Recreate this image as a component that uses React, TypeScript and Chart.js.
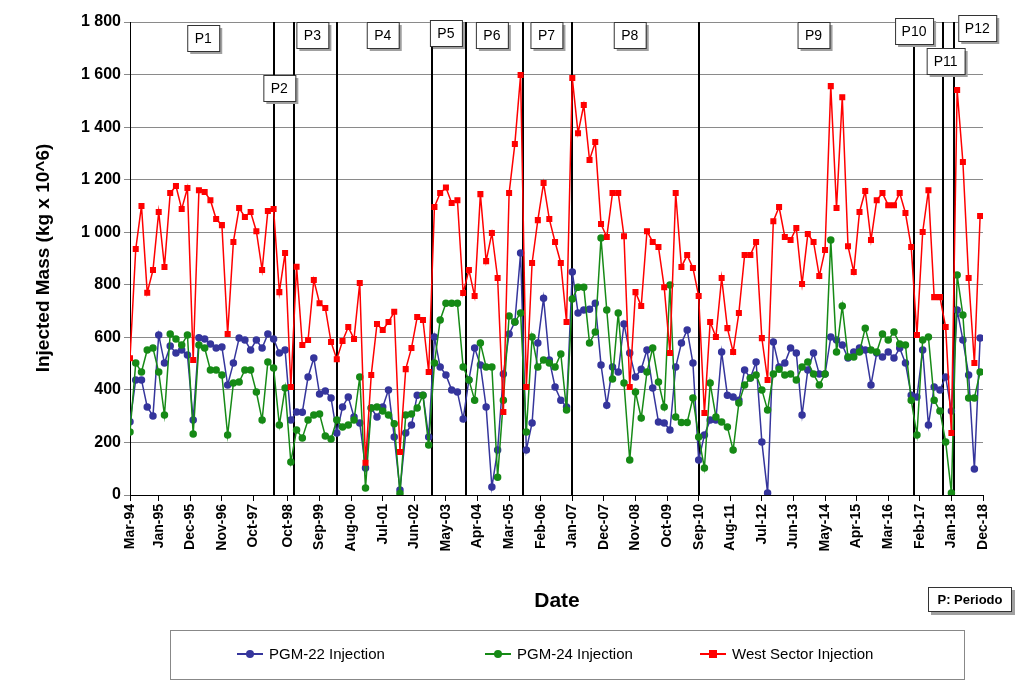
import React, { useEffect, useRef } from "react";
import { Chart, registerables } from "chart.js";
Chart.register(...registerables);

// Samples every 2 months starting Mar-94 (month index 0)
const pgm22: number[] = [
  279,438,438,335,301,609,502,567,540,552,533,285,598,594,575,559,563,419,502,597,590,552,590,559,613,594,540,552,285,316,315,449,521,384,396,369,236,335,373,297,274,103,331,297,335,400,221,19,236,266,380,
  380,221,601,487,457,400,392,289,438,559,495,335,30,171,460,613,658,921,171,274,578,749,514,411,361,335,849,693,704,707,730,495,342,487,468,651,540,449,479,552,407,278,274,247,487,578,628,502,133,228,285,
  285,544,380,373,361,476,445,506,202,8,582,487,502,559,540,304,476,540,460,460,601,590,571,521,544,559,552,419,540,525,544,521,559,502,380,373,552,266,411,400,449,320,704,590,457,99,597,
];
const pgm24: number[] = [
  240,502,468,552,559,468,304,613,594,571,609,232,571,559,476,476,457,228,426,430,476,476,392,285,506,483,266,407,126,247,217,285,304,308,225,213,285,259,266,285,449,27,331,335,320,304,271,6,304,308,331,
  380,190,502,666,730,730,730,487,438,361,578,487,487,68,361,681,658,693,240,601,487,514,502,487,537,323,746,791,791,578,620,978,704,441,693,426,133,392,293,468,559,430,335,799,297,276,276,369,221,103,426,
  297,278,259,171,350,419,445,457,400,323,460,479,457,460,438,487,506,460,419,460,970,544,719,525,525,544,635,552,544,613,590,620,575,571,361,228,590,601,361,320,202,8,837,685,369,369,468,
];
const westSector: number[] = [
  520,936,1100,770,856,1077,868,1149,1176,1088,1168,514,1160,1153,1122,1050,1027,613,963,1092,1058,1077,1004,856,1081,1088,772,921,411,869,571,590,818,730,712,582,517,586,639,594,807,123,457,651,628,658,697,164,479,559,677,
  666,468,1096,1149,1170,1111,1122,769,856,757,1145,890,997,826,316,1149,1336,1598,411,883,1046,1187,1050,963,883,658,1587,1377,1484,1275,1343,1031,982,1149,1149,985,411,772,719,1004,963,944,791,540,1149,868,913,864,757,312,658,
  601,826,635,544,693,913,913,963,597,438,1042,1096,982,970,1016,803,993,963,833,932,1556,1092,1514,947,849,1077,1157,970,1122,1149,1103,1103,1149,1073,944,609,1001,1160,753,753,639,236,1541,1267,826,502,1062,
];
const tickLabels: string[] = ["Mar-94","Jan-95","Dec-95","Nov-96","Oct-97","Oct-98","Sep-99","Aug-00","Jul-01","Jun-02","May-03","Apr-04","Mar-05","Feb-06","Jan-07","Dec-07","Nov-08","Oct-09","Sep-10","Aug-11","Jul-12","Jun-13","May-14","Apr-15","Mar-16","Feb-17","Jan-18","Dec-18"];
// period boundaries (month index)
const periodLines: number[] = [50, 57, 72, 105, 117, 137, 154, 198, 273, 283, 287];
const periodNames: string[] = ["P1","P2","P3","P4","P5","P6","P7","P8","P9","P10","P11","P12"];
const periodLabelMonth: number[] = [25.5, 52, 63.5, 88, 110, 126, 145, 174, 238, 273, 284, 295];
const periodLabelY: number[] = [38, 88, 35, 35, 33, 35, 35, 35, 35, 31, 61, 28];

const MONTHS = ["Jan","Feb","Mar","Apr","May","Jun","Jul","Aug","Sep","Oct","Nov","Dec"];
const monthIndex = (lab: string) => {
  const [m, y] = lab.split("-");
  const yy = parseInt(y, 10);
  const full = yy > 50 ? 1900 + yy : 2000 + yy;
  return (full - 1994) * 12 + MONTHS.indexOf(m) - 2;
};
const tickMap = new Map<number, string>(tickLabels.map((l) => [monthIndex(l), l]));

const BLUE = "#35359c";
const GREEN = "#168a16";
const RED = "#ff0000";

const toXY = (arr: number[]) => arr.map((v, i) => ({ x: i * 2, y: v }));

const overlay = {
  id: "overlay",
  beforeDatasetsDraw(chart: any) {
    const { ctx, chartArea, scales } = chart;
    ctx.save();
    ctx.strokeStyle = "#000";
    ctx.lineWidth = 2;
    periodLines.forEach((m) => {
      const x = Math.round(scales.x.getPixelForValue(m));
      ctx.beginPath();
      ctx.moveTo(x, chartArea.top);
      ctx.lineTo(x, chartArea.bottom);
      ctx.stroke();
    });
    ctx.restore();
  },
  afterDraw(chart: any) {
    const { ctx, scales } = chart;
    ctx.save();
    ctx.font = "14px Arial, 'Liberation Sans'";
    ctx.textAlign = "center";
    ctx.textBaseline = "middle";
    periodNames.forEach((n, i) => {
      const cx = scales.x.getPixelForValue(periodLabelMonth[i]);
      const cy = periodLabelY[i];
      const w = n.length > 2 ? 38 : 32;
      const h = 26;
      ctx.fillStyle = "#a0a0a0";
      ctx.fillRect(cx - w / 2 + 3, cy - h / 2 + 3, w, h);
      ctx.fillStyle = "#fff";
      ctx.fillRect(cx - w / 2, cy - h / 2, w, h);
      ctx.strokeStyle = "#333";
      ctx.lineWidth = 1;
      ctx.strokeRect(cx - w / 2 + 0.5, cy - h / 2 + 0.5, w, h);
      ctx.fillStyle = "#000";
      ctx.fillText(n, cx, cy + 1);
    });
    // axis titles
    ctx.font = "bold 21px Arial, 'Liberation Sans'";
    ctx.fillText("Date", 557, 601);
    ctx.save();
    ctx.translate(44, 258);
    ctx.rotate(-Math.PI / 2);
    ctx.font = "bold 19px Arial, 'Liberation Sans'";
    ctx.fillText("Injected Mass (kg x 10^6)", 0, 0);
    ctx.restore();
    ctx.restore();
  },
};

export default function App() {
  const ref = useRef<HTMLCanvasElement>(null);
  useEffect(() => {
    const chart = new Chart(ref.current!, {
      type: "line",
      data: {
        datasets: [
          { label: "PGM-22 Injection", data: toXY(pgm22), borderColor: BLUE, backgroundColor: BLUE, pointStyle: "circle", pointRadius: 3, borderWidth: 1.5, order: 3 },
          { label: "PGM-24 Injection", data: toXY(pgm24), borderColor: GREEN, backgroundColor: GREEN, pointStyle: "circle", pointRadius: 3, borderWidth: 1.5, order: 2 },
          { label: "West Sector Injection", data: toXY(westSector), borderColor: RED, backgroundColor: RED, pointStyle: "rect", pointRadius: 3.2, borderWidth: 1.5, order: 1 },
        ] as any,
      },
      options: {
        animation: false,
        responsive: false,
        devicePixelRatio: 1,
        layout: { padding: { top: 22, right: 32, left: 0, bottom: 0 } },
        plugins: { legend: { display: false }, tooltip: { enabled: false } },
        scales: {
          x: {
            type: "linear",
            min: 0,
            max: 297,
            afterBuildTicks: (s: any) => {
              s.ticks = Array.from(tickMap.keys()).map((v) => ({ value: v }));
            },
            afterFit: (s: any) => { s.height = 199; },
            ticks: {
              autoSkip: false,
              minRotation: 90,
              maxRotation: 90,
              color: "#000",
              font: { family: "Arial, 'Liberation Sans'", size: 14, weight: "bold" },
              callback: (v: any) => tickMap.get(v) ?? "",
            },
            grid: { drawOnChartArea: false, drawTicks: true, tickLength: 6, color: "#000" },
            border: { color: "#000", width: 1 },
          },
          y: {
            min: 0,
            max: 1800,
            afterFit: (s: any) => { s.width = 130; },
            ticks: {
              stepSize: 200,
              color: "#000",
              font: { family: "Arial, 'Liberation Sans'", size: 16, weight: "bold" },
              callback: (v: any) => String(v).replace(/\B(?=(\d{3})+(?!\d))/g, " "),
            },
            grid: { color: "#8a8a8a", lineWidth: 1, tickLength: 6 },
            border: { color: "#000" },
          },
        },
      } as any,
      plugins: [overlay],
    });
    return () => chart.destroy();
  }, []);

  const item = (color: string, square: boolean, text: string, left: number) => (
    <div style={{ position: "absolute", left, top: 14, display: "flex", alignItems: "center" }}>
      <div style={{ position: "relative", width: 26, height: 10 }}>
        <div style={{ position: "absolute", left: 0, top: 4, width: 26, height: 2, background: color }} />
        <div style={{ position: "absolute", left: 9, top: 1, width: 8, height: 8, background: color, borderRadius: square ? 0 : 4 }} />
      </div>
      <span style={{ marginLeft: 6, fontSize: 15 }}>{text}</span>
    </div>
  );

  return (
    <div style={{ position: "fixed", left: 0, top: 0, width: 1015, height: 694, background: "#fff", fontFamily: "Arial, 'Liberation Sans', sans-serif" }}>
      <canvas ref={ref} width={1015} height={694} style={{ display: "block" }} />
      <div style={{ position: "absolute", left: 170, top: 630, width: 795, height: 50, border: "1px solid #888", boxSizing: "border-box" }}>
        {item(BLUE, false, "PGM-22 Injection", 66)}
        {item(GREEN, false, "PGM-24 Injection", 314)}
        {item(RED, true, "West Sector Injection", 529)}
      </div>
      <div style={{ position: "absolute", left: 928, top: 587, width: 84, height: 25, border: "1px solid #333", background: "#fff", boxSizing: "border-box", boxShadow: "3px 3px 0 #a0a0a0", fontSize: 13, fontWeight: "bold", display: "flex", alignItems: "center", justifyContent: "center" }}>
        P: Periodo
      </div>
    </div>
  );
}
